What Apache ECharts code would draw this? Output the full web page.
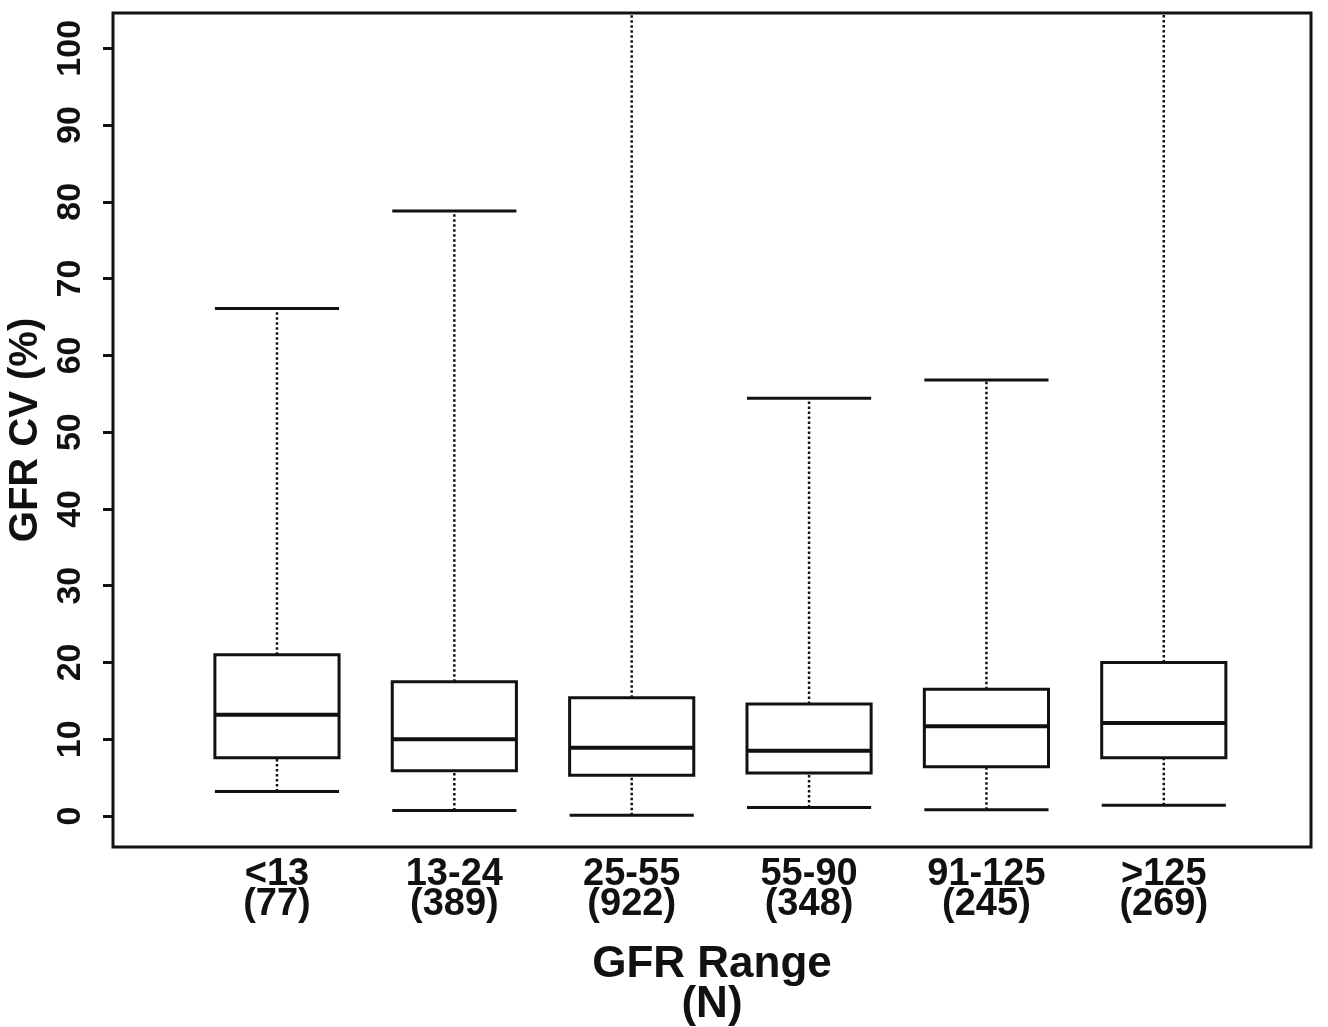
<!DOCTYPE html>
<html>
<head>
<meta charset="utf-8">
<script src="https://cdn.jsdelivr.net/npm/echarts@6/dist/echarts.min.js"></script>
<style>
html,body{margin:0;padding:0;background:#fff;}
#chart{width:1328px;height:1027px;}
</style>
</head>
<body>
<div id="chart"></div>
<script>
// ---- data ----
const categories = ['<13', '13-24', '25-55', '55-90', '91-125', '>125'];
const counts = ['(77)', '(389)', '(922)', '(348)', '(245)', '(269)'];
const positions = [1, 2, 3, 4, 5, 6];
const lowWhisker = [3.2, 0.7, 0.1, 1.1, 0.8, 1.4];
const q1 = [7.6, 5.9, 5.3, 5.6, 6.4, 7.6];
const median = [13.2, 10.0, 8.9, 8.5, 11.7, 12.1];
const q3 = [21.0, 17.5, 15.4, 14.6, 16.5, 20.0];
const highWhisker = [66.1, 78.8, 110, 54.4, 56.8, 110]; // 25-55 and >125 run off the top
const yTicks = [0, 10, 20, 30, 40, 50, 60, 70, 80, 90, 100];

const FONT = '"Liberation Sans", Arial, Helvetica, sans-serif';
const INK = '#111';

const boxData = positions.map((p, i) => [p, lowWhisker[i], q1[i], median[i], q3[i], highWhisker[i]]);

function renderBox(params, api) {
  const x = api.value(0);
  const lo = api.value(1), a = api.value(2), m = api.value(3), b = api.value(4), hi = api.value(5);
  const cs = params.coordSys;
  const top = cs.y, bottom = cs.y + cs.height;
  const half = api.size([0.7, 0])[0] / 2;
  const cx = api.coord([x, 0])[0];
  const py = v => Math.min(bottom, Math.max(top, api.coord([x, v])[1]));
  const pLo = py(lo), pA = py(a), pM = py(m), pB = py(b), pHi = py(hi);
  const solid = { stroke: INK, lineWidth: 3, fill: null };
  const dotted = { stroke: INK, lineWidth: 2.5, lineDash: [2.5, 2.5], fill: null };
  const children = [
    { type: 'line', shape: { x1: cx, y1: pB, x2: cx, y2: pHi }, style: dotted },
    { type: 'line', shape: { x1: cx, y1: pLo, x2: cx, y2: pA }, style: dotted },
    { type: 'line', shape: { x1: cx - half, y1: pLo, x2: cx + half, y2: pLo }, style: solid },
    { type: 'rect', shape: { x: cx - half, y: pB, width: half * 2, height: pA - pB }, style: solid },
    { type: 'line', shape: { x1: cx - half, y1: pM, x2: cx + half, y2: pM }, style: { stroke: INK, lineWidth: 4 } }
  ];
  if (api.coord([x, hi])[1] >= top) {
    children.push({ type: 'line', shape: { x1: cx - half, y1: pHi, x2: cx + half, y2: pHi }, style: solid });
  }
  return { type: 'group', children: children };
}

const chart = echarts.init(document.getElementById('chart'), null, { renderer: 'canvas' });
chart.setOption({
  backgroundColor: '#fff',
  animation: false,
  grid: {
    left: 113, right: 17, top: 13, bottom: 180,
    outerBoundsMode: 'none',
    containLabel: false,
    show: true, borderColor: INK, borderWidth: 3, backgroundColor: 'transparent'
  },
  xAxis: {
    type: 'value',
    min: 0.0755, max: 6.83,
    splitLine: { show: false },
    axisLine: { show: false },
    axisTick: { show: false },
    axisLabel: {
      customValues: positions,
      margin: 13,
      fontFamily: FONT, fontWeight: 'bold', fontSize: 38, lineHeight: 30, color: INK,
      formatter: v => categories[Math.round(v) - 1] + '\n' + counts[Math.round(v) - 1]
    },
    name: 'GFR Range\n(N)',
    nameLocation: 'middle',
    nameGap: 98,
    nameTextStyle: { fontFamily: FONT, fontWeight: 'bold', fontSize: 44, lineHeight: 40, color: INK, verticalAlign: 'top' }
  },
  yAxis: {
    type: 'value',
    min: -4.04, max: 104.6,
    splitLine: { show: false },
    axisLine: { show: false },
    axisTick: { show: true, customValues: yTicks, length: 10, lineStyle: { color: INK, width: 3 } },
    axisLabel: {
      customValues: yTicks,
      rotate: 90,
      margin: 25,
      fontFamily: FONT, fontWeight: 'bold', fontSize: 34, color: INK
    },
    name: 'GFR CV (%)',
    nameLocation: 'middle',
    nameGap: 52,
    nameTextStyle: { fontFamily: FONT, fontWeight: 'bold', fontSize: 40, color: INK }
  },
  series: [{
    type: 'custom',
    renderItem: renderBox,
    encode: { x: 0, y: [1, 2, 3, 4, 5] },
    data: boxData,
    clip: true
  }]
});
</script>
</body>
</html>
